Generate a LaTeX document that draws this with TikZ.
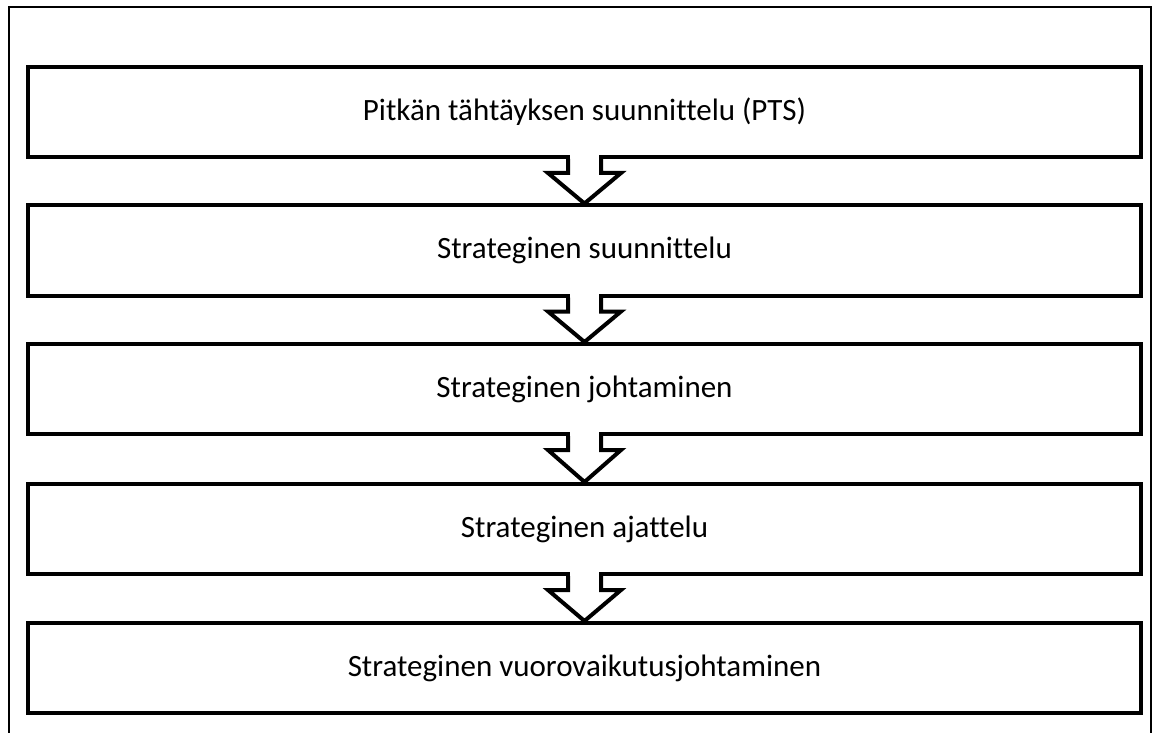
\documentclass[tikz,border=0pt]{standalone}
\usepackage{fontspec}
\setmainfont{Carlito}[Ligatures={NoCommon}]
\usetikzlibrary{calc}
\tikzset{
  stagebox/.style={draw, line width=4pt, rectangle, minimum width=1113pt, minimum height=90pt,
    inner sep=0pt, font=\fontsize{31}{37}\selectfont},
  flowarrow/.style={draw, line width=4pt, line join=miter},
  frameline/.style={draw, line width=2pt}
}
\newcommand{\stagearrow}[2]{%
  \fill[white] ($(#1.south)+(-14.5,-4)$) rectangle ($(#1.south)+(14.5,4)$);
  \draw[flowarrow] ($(#1.south)+(-16.5,0)$) -- ++(0,14) -- ++(-20,0) -- (#2.north)
    -- ($(#1.south)+(36.5,14)$) -- ++(-20,0) -- ++(0,-14);
}
\begin{document}
\begin{tikzpicture}[x=1pt,y=-1pt]
\useasboundingbox (0,0) rectangle (1152,733);
\draw[frameline] (9,745) -- (9,7) -- (1151,7) -- (1151,745);
\node[stagebox] (s1) at (584.5,112) {Pitkän tähtäyksen suunnittelu (PTS)};
\node[stagebox] (s2) at (584.5,250.5) {Strateginen suunnittelu};
\node[stagebox] (s3) at (584.5,389) {Strateginen johtaminen};
\node[stagebox] (s4) at (584.5,529) {Strateginen ajattelu};
\node[stagebox] (s5) at (584.5,668) {Strateginen vuorovaikutusjohtaminen};
\stagearrow{s1}{s2}
\stagearrow{s2}{s3}
\stagearrow{s3}{s4}
\stagearrow{s4}{s5}
\end{tikzpicture}
\end{document}
